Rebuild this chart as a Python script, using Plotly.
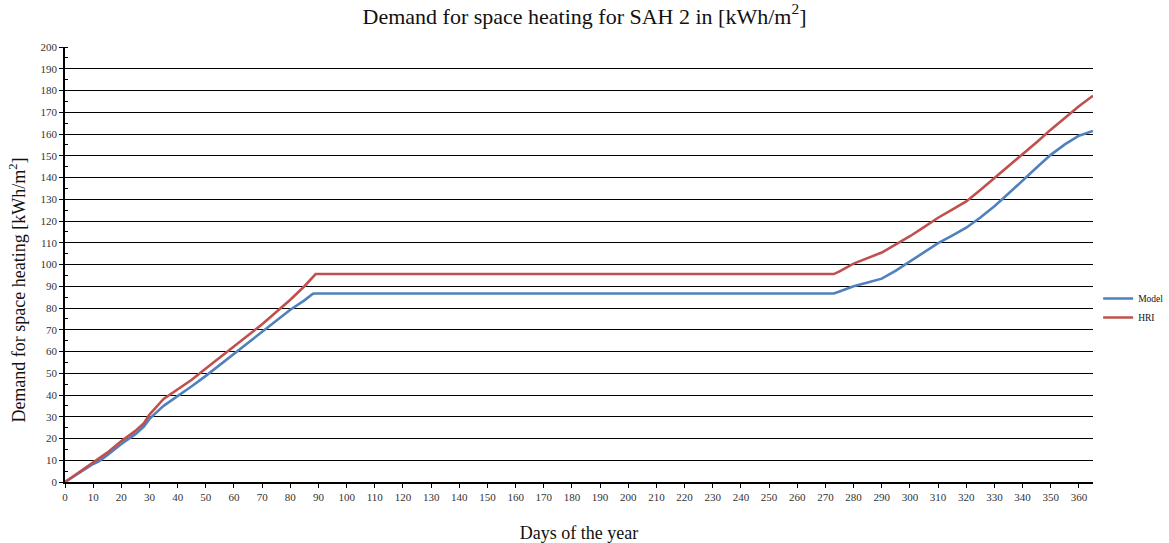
import plotly.graph_objects as go

days = [0, 5, 10, 12, 15, 20, 25, 28, 30, 35, 40, 45, 50, 55, 60, 65, 70, 75, 80, 85, 88, 89,
        273, 275, 280, 285, 290, 295, 300, 305, 310, 315, 320, 325, 330, 335, 340, 345, 350, 355, 360, 365]

model = [0, 4.3, 8.3, 9.5, 12.3, 17.5, 22.0, 25.5, 29.0, 35.0, 39.3, 44.0, 48.8, 53.8, 59.2, 64.0, 68.8, 74.0, 79.2, 83.5, 86.6, 86.7,
         86.7, 87.6, 90.0, 91.7, 93.5, 97.2, 101.3, 105.6, 109.8, 113.3, 116.9, 121.6, 126.8, 132.6, 138.8, 144.6, 150.4, 155.2, 159.2, 161.4]

hri = [0, 4.6, 8.8, 11.0, 13.5, 18.8, 23.5, 27.0, 31.0, 38.2, 42.6, 47.0, 52.2, 57.2, 62.5, 67.5, 72.5, 78.2, 83.8, 90.0, 94.0, 95.6,
       95.6, 96.8, 100.4, 103.0, 105.5, 109.3, 113.0, 117.2, 121.5, 125.2, 129.0, 134.3, 139.8, 145.2, 150.5, 156.2, 162.0, 167.6, 172.8, 177.6]

font_family = "Liberation Serif"

fig = go.Figure()
fig.add_trace(go.Scatter(x=days, y=model, mode="lines", name="Model",
                         line=dict(color="#4F81BD", width=2.6)))
fig.add_trace(go.Scatter(x=days, y=hri, mode="lines", name="HRI",
                         line=dict(color="#C0504D", width=2.6)))

fig.update_layout(
    width=1169, height=543,
    margin=dict(l=65, r=76, t=47, b=61, autoexpand=False),
    paper_bgcolor="white", plot_bgcolor="white",
    font=dict(family=font_family, color="#222", size=11),
    title=dict(text="Demand for space heating for SAH 2 in [kWh/m<sup>2</sup>]",
               x=0.5, xanchor="center", y=0.985, yanchor="top",
               font=dict(size=22, family=font_family, color="#111")),
    legend=dict(x=1.005, y=0.40, xanchor="left", yanchor="middle",
                font=dict(size=9.5, family=font_family, color="#111"),
                bgcolor="rgba(0,0,0,0)", itemwidth=30),
    showlegend=True,
)

fig.update_xaxes(
    range=[0, 365], tick0=0, dtick=10, showgrid=False,
    showline=True, linecolor="black", linewidth=1.5,
    ticks="outside", ticklen=4, tickcolor="black",
    tickfont=dict(size=11, family=font_family, color="#333"),
    title=dict(text="Days of the year", standoff=24,
               font=dict(size=18, family=font_family, color="#111")),
    zeroline=False,
)
fig.update_yaxes(
    range=[0, 200], tick0=0, dtick=10,
    showgrid=True, gridcolor="black", gridwidth=1,
    showline=True, linecolor="black", linewidth=1.5,
    ticks="outside", ticklen=4, tickcolor="black",
    minor=dict(ticks="inside", dtick=5, ticklen=3, tickcolor="black", showgrid=False),
    tickfont=dict(size=11, family=font_family, color="#333"),
    zeroline=False,
)

fig.add_annotation(
    text="Demand for space heating [kWh/m<sup>2</sup>]",
    xref="paper", yref="paper", x=-0.0457, y=0.44,
    xanchor="center", yanchor="middle", textangle=-90, showarrow=False,
    font=dict(size=18, family=font_family, color="#111"),
)

fig.write_html("out.html")
